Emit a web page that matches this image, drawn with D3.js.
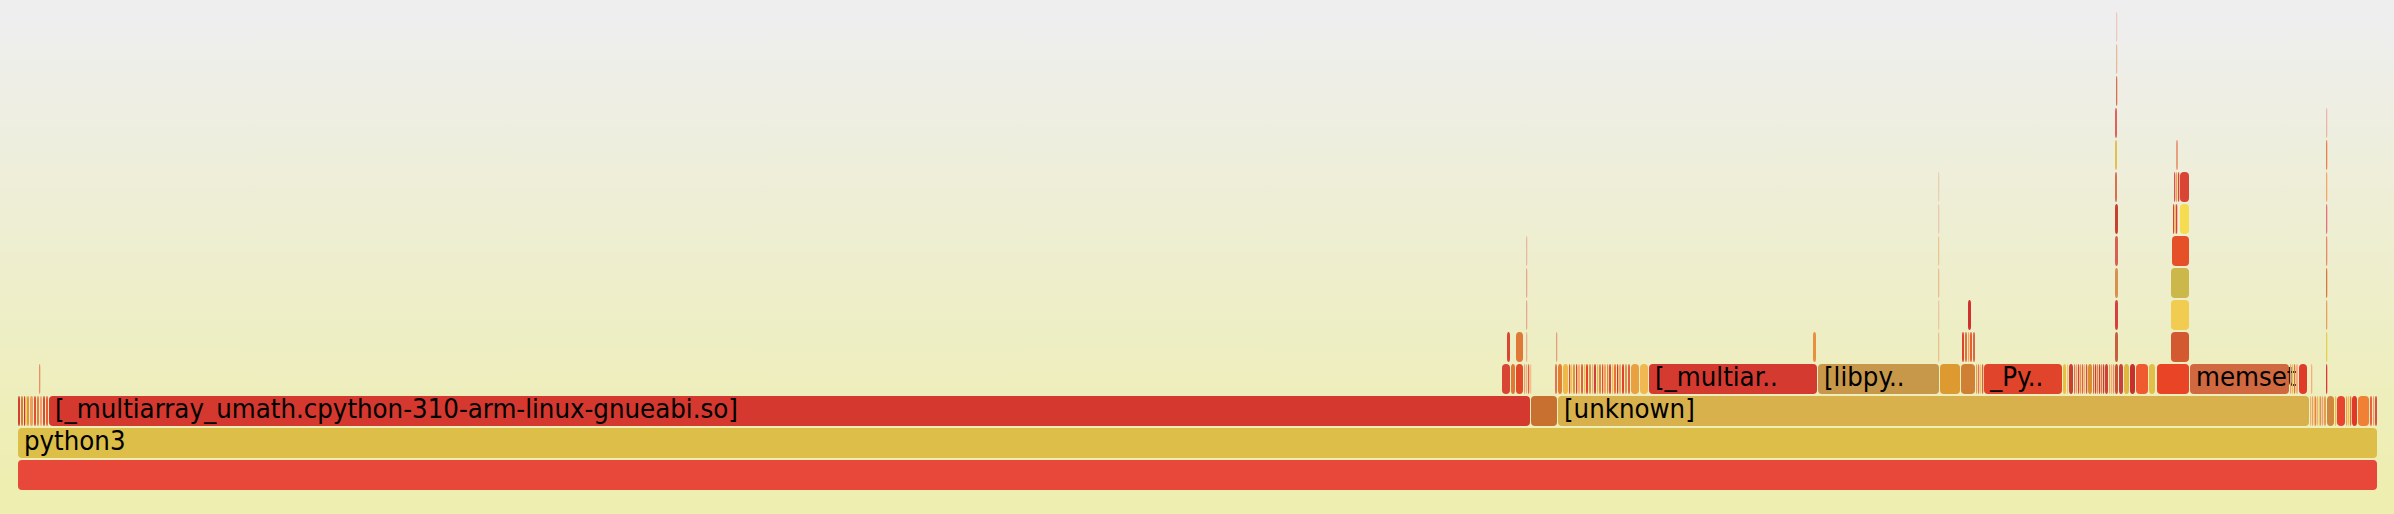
<!DOCTYPE html>
<html>
<head>
<meta charset="utf-8">
<script src="https://cdn.jsdelivr.net/npm/d3@7"></script>
<style>
  html, body { margin: 0; padding: 0; background: #eeeeb0; }
  svg { display: block; }
</style>
</head>
<body>
<svg id="chart" width="2394" height="514"></svg>
<script>
// ---------- DATA (sample counts per stack level, [name, samples]; null name = empty space) ----------
const totalSamples = 2360;

const level0 = [["", 2360]];
const level1 = [["python3", 2360]];
const level2 = [
  ["",3],["",3],["",2],["",1],["",3],["",4],["",3],["",3],["",3],["",3],["",3],
  ["[_multiarray_umath.cpython-310-arm-linux-gnueabi.so]",1482],
  ["",27],
  ["[unknown]",752],
  ["",2],["",2],["",1],["",2],["",2],["",1],["",2],["",2],["",3],
  ["",8],["",2],["",9],["",2],["",2],["",2],["",6],["",12],["",3],["",2],["",3]
];
const level3 = [
  [null,21],["",2],[null,1461],
  ["",9],["",5],["",8],["",2],["",2],["",2],["",2],
  [null,23],["",3],
  ["",5],["",6],["",2],["",2],["",3],["",2],["",3],["",3],["",2],["",3],["",3],["",2],["",3],
  ["",2],["",3],["",2],["",3],["",2],["",3],["",2],["",3],["",2],["",3],["",3],["",3],["",3],
  ["",9],["",9],
  ["[_multiarray_umath.cpython-310-arm-linux-gnueabi.so]",169],
  ["[libpython3.10.so.1.0]",122],
  ["",21],["",15],["",2],["",2],["",2],["",2],
  ["_PyEval_EvalFrameDefault",79],
  ["",4],["",2],["",5],["",2],["",2],["",2],["",2],["",2],["",2],["",2],["",5],
  ["",2],["",2],["",2],["",2],["",2],["",2],["",4],["",2],["",2],["",2],
  ["",4],["",5],["",6],["",6],["",13],["",7],
  [null,1],["",33],
  ["memset",100],
  ["",2],["",2],["",2],["",3],["",9],
  [null,3],["",2],[null,13],["",2],[null,50]
];
const level4 = [
  [null,1489],["",4],[null,5],["",8],[null,2],["",2],[null,28],["",2],[null,255],["",4],
  [null,121],["",2],[null,22],["",3],["",3],["",2],["",3],["",3],[null,139],["",4],
  [null,52],["",19],[null,136],["",2],[null,50]
];
const level5 = [
  [null,1508],["",2],[null,410],["",2],[null,28],["",4],[null,143],["",4],
  [null,52],["",19],[null,136],["",2],[null,50]
];
const level6 = [
  [null,1508],["",2],[null,410],["",2],[null,175],["",4],[null,52],["",19],[null,136],["",2],[null,50]
];
const level7 = [
  [null,1508],["",2],[null,410],["",2],[null,175],["",4],[null,53],["",18],[null,136],["",2],[null,50]
];
const level8 = [
  [null,1920],["",2],[null,175],["",4],[null,54],["",2],["",1],["",2],[null,2],["",10],[null,136],["",2],[null,50]
];
const level9 = [
  [null,1920],["",2],[null,175],["",3],[null,56],["",2],["",2],["",1],[null,1],["",10],[null,136],["",2],[null,50]
];
const level10 = [[null,2097],["",3],[null,58],["",3],[null,147],["",2],[null,50]];
const level11 = [[null,2097],["",3],[null,208],["",2],[null,50]];
const level12 = [[null,2098],["",2],[null,260]];
const level13 = [[null,2098],["",2],[null,260]];
const level14 = [[null,2098],["",2],[null,260]];

const levels = [level0, level1, level2, level3, level4, level5, level6, level7,
                level8, level9, level10, level11, level12, level13, level14];

// ---------- STYLE: fill colours of the drawn frames, per level, in order ----------
const levelColors = [
  ["#e8483a"],
  ["#dcbe48"],
  ["#d04030","#e07838","#c83828","#e8e040","#e89048","#eba060","#e05038","#e88040","#f0a070","#d84838","#e86030",
   "#d4382e","#c87030","#d8b04c",
   "#f0b070","#e8a060","#f0c050","#e08050","#f0b080","#e8d050","#e09060","#f0a070","#e0a050",
   "#d08840","#e8c040","#e84530","#f0a040","#e8c050","#e07040","#e03828","#ef8035","#e86040","#f0a060","#d85048"],
  ["#e89060",
   "#d84535","#e07838","#e04a28","#e8a070","#f0b080","#e06040","#f0c090",
   "#e87050",
   "#e08030","#f0b848","#e04838","#f0c840","#e89040","#d84030","#f0b070","#e86030","#e8c050","#e84030","#e09040","#e8b070","#d04040",
   "#e0c048","#e88040","#e05030","#f0a060","#d89038","#e04838","#f0c048","#e87040","#d83828","#f0a858","#e04030","#e89048","#e06040",
   "#e8a040","#f0b850",
   "#d43a30","#c8984a",
   "#dc9a30","#d08035","#e8a050","#e87060","#f0c060","#d86040",
   "#e0442a",
   "#e8c040","#f0c080","#c84030","#e87050","#f0a070","#d84030","#e89050","#e06040","#f0b070","#d05040","#d89030",
   "#e06040","#c84030","#e88050","#d83830","#e07050","#c04030","#d04038","#e8a070","#f0b060","#e09070",
   "#c85030","#c84040","#e0b840","#c83030","#f05a30","#e0c048",
   "#e84425","#d06840",
   "#f0a060","#e8c050","#e07040","#f0b080","#e03a28",
   "#f0b080","#e03838"],
  ["#d84535","#e07838","#e8b090","#e0a080","#e89040","#e8c090","#e04030","#e07038","#f0a060","#e86030","#d86848","#c86040","#d35a30","#e0d050"],
  ["#e8a890","#e8c8a0","#d03030","#d84040","#f2cc50","#e8a060"],
  ["#e8a890","#e8c090","#d89050","#ccb84a","#d87840"],
  ["#e8b8a0","#e8c890","#d86050","#e55028","#e88868"],
  ["#e8c8b0","#c84030","#e04030","#f0c050","#d84030","#f5dc50","#e07080"],
  ["#e8d0b0","#d87050","#e05040","#f0a050","#e04030","#d84535","#f0a868"],
  ["#e0c050","#e8a080","#e88050"],
  ["#e06060","#e8b8a8"],
  ["#d87050"],
  ["#e8b898"],
  ["#ecc8c0"]
];

// ---------- DRAW ----------
const svg = d3.select("#chart");
const W = 2394, H = 514;
const fitFontSize = 24, fontWidth = 0.59;   // used for label fitting (flamegraph rule)
const drawFontSize = 27.3;

const defs = svg.append("defs");
const grad = defs.append("linearGradient").attr("id", "bg").attr("x1", 0).attr("y1", 0).attr("x2", 0).attr("y2", 1);
grad.append("stop").attr("offset", "5%").attr("stop-color", "#eeeeee");
grad.append("stop").attr("offset", "95%").attr("stop-color", "#eeeeb0");
svg.append("rect").attr("width", W).attr("height", H).attr("fill", "url(#bg)");

const x = d3.scaleLinear().domain([0, totalSamples]).range([18, 2378]);
const y = d3.scaleLinear().domain([0, 14]).range([460, 12]);
const frameH = 30;

const frames = [];
levels.forEach((lvl, li) => {
  const ends = d3.cumsum(lvl, d => d[1]);
  let ci = 0;
  lvl.forEach((d, i) => {
    if (d[0] === null) return;
    frames.push({
      name: d[0], level: li, start: ends[i] - d[1], samples: d[1],
      color: levelColors[li][ci++] || "#e07040"
    });
  });
});

const g = svg.append("g");
const node = g.selectAll("g.frame").data(frames).join("g").attr("class", "frame");

node.append("rect")
  .attr("x", d => x(d.start))
  .attr("y", d => y(d.level))
  .attr("width", d => Math.max(x(d.start + d.samples) - x(d.start) - 1, 1.3))
  .attr("height", frameH)
  .attr("rx", 4).attr("ry", 4)
  .attr("fill", d => d.color);

function label(d) {
  const w = x(d.start + d.samples) - x(d.start) - 1;
  const chars = Math.floor(w / (fitFontSize * fontWidth));
  if (chars < 3 || !d.name) return "";
  if (chars >= d.name.length) return d.name;
  return d.name.substring(0, chars - 2) + "..";
}

node.filter(d => label(d) !== "")
  .append("text")
  .attr("x", d => x(d.start) + 6)
  .attr("y", d => y(d.level) + 22)
  .attr("font-family", "'DejaVu Sans Condensed', 'DejaVu Sans', sans-serif")
  .attr("font-stretch", "condensed")
  .attr("font-size", drawFontSize)
  .attr("fill", "#000")
  .text(label);
</script>
</body>
</html>
